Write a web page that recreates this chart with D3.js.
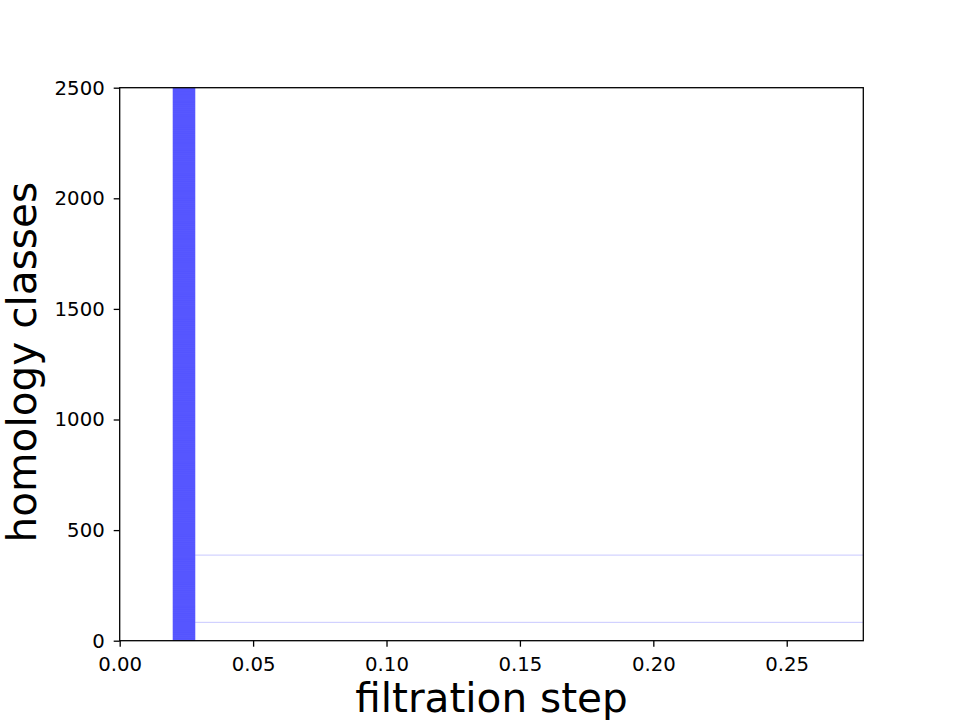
<!DOCTYPE html>
<html>
<head>
<meta charset="utf-8">
<script src="https://cdn.jsdelivr.net/npm/d3@7"></script>
<style>
  body { margin: 0; background: #fff; }
  text { font-family: "DejaVu Sans", sans-serif; fill: #000; }
</style>
</head>
<body>
<div id="chart"></div>
<script>
// barcode data: every class is born at the same step, nearly all die together
var classCount = 2500;
var birthStep = 0.0199;
var deathStep = 0.0283;
var infiniteClasses = [83, 387];   // classes that never die

var xTicks = [0, 0.05, 0.10, 0.15, 0.20, 0.25];
var yTicks = [0, 500, 1000, 1500, 2000, 2500];
var xMax = 0.2787;

var svgWidth = 960;
var svgHeight = 720;

var margin = {
  top: 87.7,
  right: 96.7,
  bottom: 79.3,
  left: 119.7
};

var width = svgWidth - margin.left - margin.right;
var height = svgHeight - margin.top - margin.bottom;

var svg = d3.select("#chart")
  .append("svg")
  .attr("width", svgWidth)
  .attr("height", svgHeight);

var chartGroup = svg.append("g")
  .attr("transform", `translate(${margin.left}, ${margin.top})`);

var xScale = d3.scaleLinear()
  .domain([0, xMax])
  .range([0, width]);

var yScale = d3.scaleLinear()
  .domain([0, 2500])
  .range([height, 0]);

// one record per homology class
var intervals = d3.range(classCount).map(function(i) {
  return {
    index: i,
    birth: birthStep,
    death: infiniteClasses.includes(i) ? Infinity : deathStep
  };
});

chartGroup.append("clipPath")
  .attr("id", "plotClip")
  .append("rect")
  .attr("width", width)
  .attr("height", height);

chartGroup.append("g")
  .attr("clip-path", "url(#plotClip)")
  .selectAll("line")
  .data(intervals)
  .enter()
  .append("line")
  .attr("x1", d => xScale(d.birth))
  .attr("x2", d => isFinite(d.death) ? xScale(d.death) : xScale(xMax))
  .attr("y1", d => yScale(d.index))
  .attr("y2", d => yScale(d.index))
  .attr("stroke", "blue")
  .attr("stroke-opacity", 0.22)
  .attr("stroke-width", 1);

// axes
var bottomAxis = d3.axisBottom(xScale)
  .tickValues(xTicks)
  .tickFormat(d3.format(".2f"))
  .tickSizeInner(6)
  .tickSizeOuter(0)
  .tickPadding(5);

var leftAxis = d3.axisLeft(yScale)
  .tickValues(yTicks)
  .tickFormat(d3.format("d"))
  .tickSizeInner(6)
  .tickSizeOuter(0)
  .tickPadding(9);

var xAxisG = chartGroup.append("g")
  .attr("transform", `translate(0, ${height})`)
  .call(bottomAxis);

var yAxisG = chartGroup.append("g")
  .call(leftAxis);

[xAxisG, yAxisG].forEach(function(g) {
  g.select(".domain").remove();
  g.selectAll(".tick line").attr("stroke", "#000").attr("stroke-width", 1.3);
  g.selectAll(".tick text")
    .style("font-family", "DejaVu Sans")
    .style("font-size", "19.7px")
    .attr("fill", "#000");
});

xAxisG.selectAll(".tick text").attr("dy", "0.97em");

// frame
chartGroup.append("rect")
  .attr("width", width)
  .attr("height", height)
  .attr("fill", "none")
  .attr("stroke", "#000")
  .attr("stroke-width", 1.3);

// axis labels
chartGroup.append("text")
  .attr("x", width / 2)
  .attr("y", height + 71)
  .attr("text-anchor", "middle")
  .style("font-size", "40.6px")
  .text("filtration step");

chartGroup.append("text")
  .attr("transform", "rotate(-90)")
  .attr("x", -height / 2 + 2)
  .attr("y", -margin.left + 36)
  .attr("text-anchor", "middle")
  .style("font-size", "40.6px")
  .text("homology classes");
</script>
</body>
</html>
